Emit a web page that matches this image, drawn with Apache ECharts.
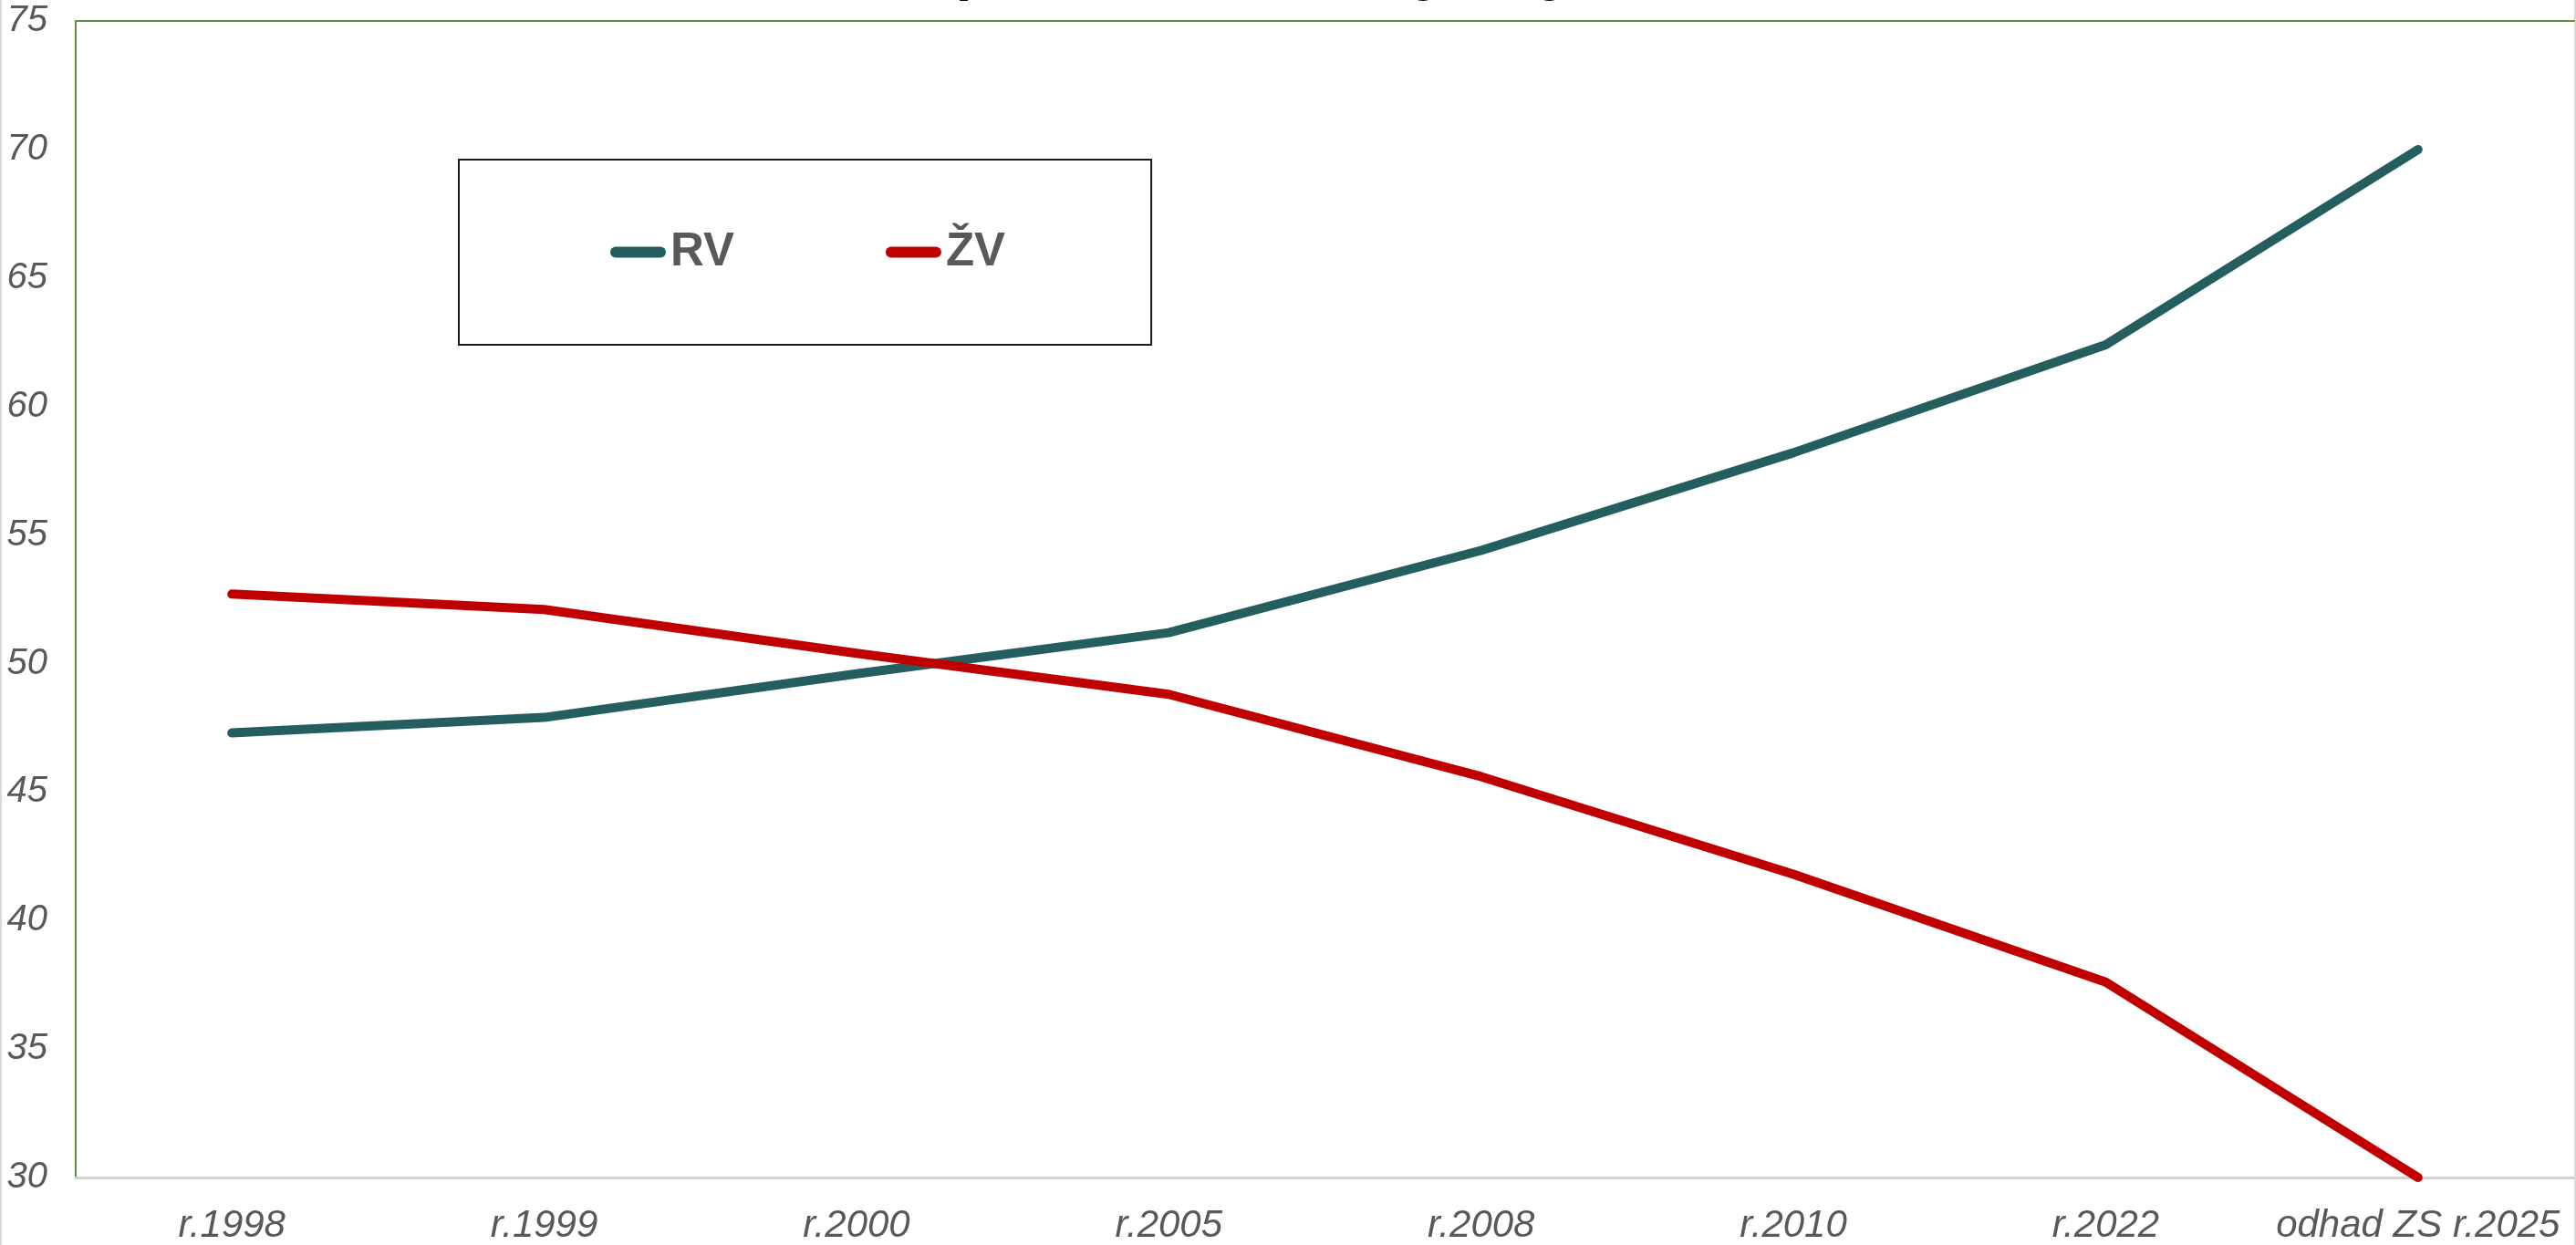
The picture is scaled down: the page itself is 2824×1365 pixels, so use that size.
<!DOCTYPE html>
<html>
<head>
<meta charset="utf-8">
<style>
  html, body { margin: 0; padding: 0; background: #ffffff; }
  #chart { width: 2824px; height: 1365px; }
</style>
<script src="https://cdn.jsdelivr.net/npm/echarts@6/dist/echarts.min.js"></script>
</head>
<body>
<div id="chart"></div>
<script>
const categories = ['r.1998', 'r.1999', 'r.2000', 'r.2005', 'r.2008', 'r.2010', 'r.2022', 'odhad ZS r.2025'];
const rvValues = [47.3, 47.9, 49.6, 51.2, 54.4, 58.2, 62.4, 70.0];
const zvValues = [52.7, 52.1, 50.4, 48.8, 45.6, 41.8, 37.6, 30.0];
const seriesNames = ['RV', 'ŽV'];
const titleText = 'Srovnání podílu RV a ŽV výroby';

const chart = echarts.init(document.getElementById('chart'), null, { renderer: 'canvas' });
const font = '"Liberation Sans", Arial, sans-serif';
const capsule = 'path://M6,0 H55 A6,6 0 0 1 55,12 H6 A6,6 0 0 1 6,0 Z';

chart.setOption({
  backgroundColor: '#ffffff',
  animation: false,
  title: {
    text: titleText,
    left: 756,
    top: -62,
    padding: 0,
    textStyle: { fontFamily: font, fontSize: 64, fontWeight: 'bold', color: '#000000' }
  },
  legend: {
    data: seriesNames,
    left: 503,
    top: 175,
    orient: 'horizontal',
    padding: [76, 160, 76, 166],
    itemGap: 166,
    itemWidth: 61,
    itemHeight: 12,
    icon: capsule,
    borderColor: '#1a1a1a',
    borderWidth: 2,
    textStyle: { fontFamily: font, fontSize: 51, fontWeight: 'bold', color: '#595959' }
  },
  grid: { left: 83, right: 2, top: 23, bottom: 73, containLabel: false },
  xAxis: [
    {
      type: 'category',
      data: categories,
      boundaryGap: true,
      position: 'bottom',
      axisLine: { show: true, lineStyle: { color: '#d4d4cc', width: 3 } },
      axisTick: { show: false },
      axisLabel: {
        margin: 32,
        interval: 0,
        fontFamily: font,
        fontSize: 42,
        fontStyle: 'italic',
        color: '#595959'
      },
      splitLine: { show: false }
    },
    {
      type: 'category',
      data: categories,
      boundaryGap: true,
      position: 'top',
      axisLine: { show: true, lineStyle: { color: '#5f9143', width: 2 } },
      axisTick: { show: false },
      axisLabel: { show: false },
      splitLine: { show: false }
    }
  ],
  yAxis: {
    type: 'value',
    min: 30,
    max: 75,
    interval: 5,
    axisLine: { show: true, lineStyle: { color: '#5f9143', width: 2 } },
    axisTick: { show: false },
    splitLine: { show: false },
    axisLabel: {
      margin: 31,
      align: 'right',
      fontFamily: font,
      fontSize: 40,
      fontStyle: 'italic',
      color: '#595959'
    }
  },
  graphic: [
    { type: 'rect', left: 0, top: 0, shape: { width: 2, height: 1365 }, style: { fill: '#d9d9d9' }, silent: true },
    { type: 'rect', left: 2822, top: 0, shape: { width: 2, height: 1365 }, style: { fill: '#d9d9d9' }, silent: true }
  ],
  series: [
    {
      name: seriesNames[0],
      type: 'line',
      data: rvValues,
      symbol: 'none',
      clip: false,
      lineStyle: { color: '#255e5f', width: 10, cap: 'round', join: 'round' },
      itemStyle: { color: '#255e5f' }
    },
    {
      name: seriesNames[1],
      type: 'line',
      data: zvValues,
      symbol: 'none',
      clip: false,
      lineStyle: { color: '#c00000', width: 10, cap: 'round', join: 'round' },
      itemStyle: { color: '#c00000' }
    }
  ]
});
</script>
</body>
</html>
